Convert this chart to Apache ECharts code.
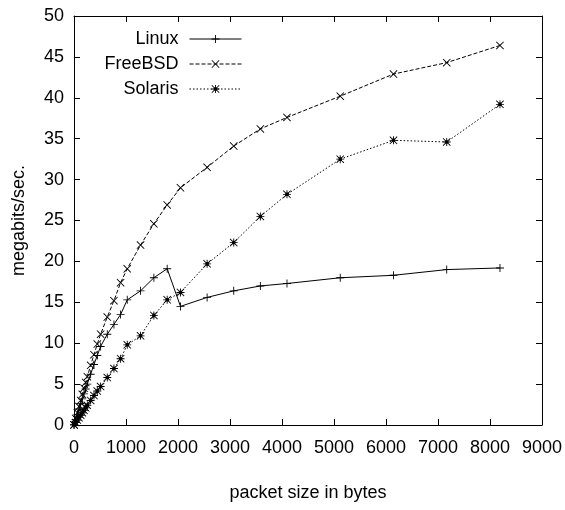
<!DOCTYPE html>
<html><head><meta charset="utf-8">
<script src="https://cdn.jsdelivr.net/npm/echarts@6/dist/echarts.min.js"></script>
<style>html,body{margin:0;padding:0;background:#fff}#c{width:565px;height:510px}</style>
</head><body><div id="c"></div>
<script>
var sizes = [1, 32, 64, 96, 128, 160, 192, 224, 256, 320, 384, 448, 512, 640, 768, 896, 1024, 1280, 1536, 1792, 2048, 2560, 3072, 3584, 4096, 5120, 6144, 7168, 8192];
var linux =   [0.03, 0.65, 1.3, 1.95, 2.6, 3.2, 3.8, 4.4, 5.0, 6.2, 7.4, 8.5, 9.6, 11.1, 12.3, 13.5, 15.3, 16.4, 18.0, 19.1, 14.5, 15.6, 16.4, 17.0, 17.3, 18.0, 18.3, 19.0, 19.2];
var freebsd = [0.03, 0.8, 1.5, 2.25, 3.0, 3.75, 4.5, 5.2, 5.9, 7.3, 8.6, 9.9, 11.1, 13.2, 15.2, 17.4, 19.1, 22.0, 24.6, 26.9, 29.0, 31.5, 34.1, 36.2, 37.6, 40.2, 42.9, 44.3, 46.4];
var solaris = [0.01, 0.3, 0.6, 0.9, 1.2, 1.5, 1.8, 2.1, 2.4, 3.0, 3.6, 4.15, 4.7, 5.8, 6.9, 8.1, 9.8, 10.9, 13.4, 15.3, 16.2, 19.7, 22.3, 25.5, 28.2, 32.5, 34.8, 34.6, 39.2];
var seriesNames = ['Linux', 'FreeBSD', 'Solaris'];

function pairs(v){ return sizes.map(function(s,i){ return [s, v[i]]; }); }

var plusPath = 'path://M4,0H5V9H4Z M0,4H9V5H0Z';
var xPath = 'path://M0.7,0L4.5,3.8L8.3,0L9,0.7L5.2,4.5L9,8.3L8.3,9L4.5,5.2L0.7,9L0,8.3L3.8,4.5L0,0.7Z';
var starPath = 'path://M4,0H5V9H4Z M0,4H9V5H0Z M0.7,0L4.5,3.8L8.3,0L9,0.7L5.2,4.5L9,8.3L8.3,9L4.5,5.2L0.7,9L0,8.3L3.8,4.5L0,0.7Z M2.5,2.5H6.5V6.5H2.5Z';

var font = '"Liberation Sans", Arial, sans-serif';
var fs = 18;
var chart = echarts.init(document.getElementById('c'), null, {renderer:'canvas'});
var axisLine = {show:true, onZero:false, lineStyle:{color:'#000', width:1}};
var tick = {show:true, inside:true, length:6, lineStyle:{color:'#000', width:1}};
chart.setOption({
  animation:false,
  backgroundColor:'#fff',
  grid:{left:74, right:22, top:16, bottom:85, containLabel:false},
  legend:{
    show:true, orient:'vertical', right:318, top:25, align:'right',
    itemWidth:52, itemHeight:10, itemGap:7,
    lineStyle:{width:1},
    textStyle:{fontFamily:font, fontSize:fs, color:'#000', padding:[0,6,0,0]},
    data:seriesNames
  },
  xAxis:[{
    type:'value', min:0, max:9000, interval:1000,
    name:'packet size in bytes', nameLocation:'middle', nameGap:59,
    nameTextStyle:{fontFamily:font, fontSize:fs, color:'#000'},
    axisLine:axisLine, axisTick:tick,
    axisLabel:{fontFamily:font, fontSize:fs, color:'#000', margin:14, formatter:function(v){return String(v);}},
    splitLine:{show:false}
  },{
    type:'value', min:0, max:9000, interval:1000, position:'top',
    axisLine:axisLine, axisTick:tick, axisLabel:{show:false}, splitLine:{show:false}
  }],
  yAxis:[{
    type:'value', min:0, max:50, interval:5,
    name:'megabits/sec.', nameLocation:'middle', nameGap:46,
    nameTextStyle:{fontFamily:font, fontSize:fs, color:'#000'},
    axisLine:axisLine, axisTick:tick,
    axisLabel:{fontFamily:font, fontSize:fs, color:'#000', margin:10},
    splitLine:{show:false}
  },{
    type:'value', min:0, max:50, interval:5, position:'right',
    axisLine:axisLine, axisTick:tick, axisLabel:{show:false}, splitLine:{show:false}
  }],
  series:[
    {name:'Linux', type:'line', data:pairs(linux), symbol:plusPath, symbolSize:8,
     lineStyle:{color:'#000', width:1, type:'solid'}, itemStyle:{color:'#000'}},
    {name:'FreeBSD', type:'line', data:pairs(freebsd), symbol:xPath, symbolSize:8,
     lineStyle:{color:'#000', width:1, type:[4,2]}, itemStyle:{color:'#000'}},
    {name:'Solaris', type:'line', data:pairs(solaris), symbol:starPath, symbolSize:8,
     lineStyle:{color:'#000', width:1, type:[1.5,2]}, itemStyle:{color:'#000'}}
  ]
});
</script></body></html>
